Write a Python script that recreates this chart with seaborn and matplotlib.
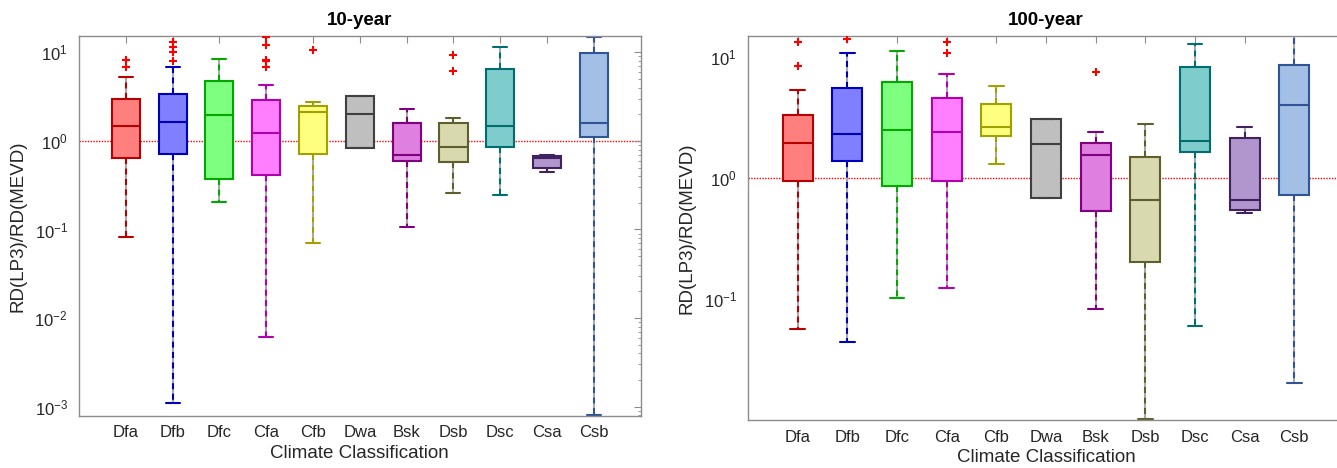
import numpy as np
import matplotlib
matplotlib.use("Agg")
import matplotlib.pyplot as plt
import matplotlib.ticker as mticker
import seaborn as sns

# ---------------- data ----------------
categories = ["Dfa", "Dfb", "Dfc", "Cfa", "Cfb", "Dwa", "Bsk", "Dsb", "Dsc", "Csa", "Csb"]

# 10-year: lower whisker, Q1, median, Q3, upper whisker
y10_low = [0.083, 0.0011, 0.205, 0.0061, 0.0695, 0.834, 0.106, 0.261, 0.244, 0.447, 0.0008]
y10_q1 = [0.64, 0.71, 0.376, 0.41, 0.708, 0.834, 0.59, 0.585, 0.85, 0.496, 1.10]
y10_med = [1.47, 1.64, 1.96, 1.22, 2.12, 2.03, 0.695, 0.86, 1.49, 0.64, 1.58]
y10_q3 = [2.95, 3.36, 4.70, 2.90, 2.46, 3.19, 1.60, 1.61, 6.50, 0.677, 9.80]
y10_high = [5.3, 6.9, 8.5, 4.25, 2.77, 3.19, 2.30, 1.80, 11.4, 0.70, 14.8]
y10_out = {"Dfa": [8.1, 6.9], "Dfb": [13.2, 11.4, 10.2, 8.0],
           "Cfa": [15.0, 12.2, 8.3, 8.0, 6.8], "Cfb": [10.7], "Dsb": [9.4, 6.2]}

# 100-year
y100_low = [0.0565, 0.0441, 0.101, 0.123, 1.31, 0.689, 0.0826, 0.0100, 0.0591, 0.514, 0.0199]
y100_q1 = [0.945, 1.37, 0.854, 0.945, 2.24, 0.689, 0.537, 0.200, 1.64, 0.548, 0.719]
y100_med = [1.95, 2.33, 2.51, 2.40, 2.62, 1.90, 1.56, 0.654, 2.02, 0.662, 4.04]
y100_q3 = [3.30, 5.60, 6.18, 4.56, 4.09, 3.10, 1.94, 1.49, 8.27, 2.14, 8.70]
y100_high = [5.38, 10.9, 11.3, 7.30, 5.73, 3.10, 2.40, 2.82, 13.0, 2.64, 20.0]
y100_out = {"Dfa": [13.5, 8.5], "Dfb": [14.3], "Cfa": [13.5, 10.8], "Bsk": [7.6]}

fill_colors = ["#FF7F7F", "#7F7FFF", "#7FFF7F", "#FF7FFF", "#FFFF7F", "#BFBFBF",
               "#DF7FDF", "#D9D9B0", "#7FCCCC", "#B096CC", "#A3BFE6"]
edge_colors = ["#B80000", "#0000B8", "#00A800", "#B000B0", "#A0A000", "#404040",
               "#800080", "#5E5E2E", "#006E6E", "#3F225F", "#2F5597"]

# ---------------- style ----------------
sns.set_style("white")
plt.rcParams["font.family"] = ["Liberation Sans", "DejaVu Sans"]
plt.rcParams["mathtext.fontset"] = "custom"
plt.rcParams["mathtext.rm"] = "Liberation Sans"
plt.rcParams["mathtext.it"] = "Liberation Sans"
plt.rcParams["mathtext.bf"] = "Liberation Sans:bold"

SPINE = "#8C8C8C"
TXT = "#262626"

fig = plt.figure(figsize=(13.37, 4.68), dpi=100)
ax1 = fig.add_axes([79 / 1337, 1 - 415.7 / 468, 561.7 / 1337, 379.7 / 468])
# right panel is cut off by the figure edge, as in the reference
ax2 = fig.add_axes([748 / 1337, 1 - 420 / 468, 640 / 1337, 384 / 468])
full_frac = (596 / 2) / 640   # centre of the uncropped right panel


def draw_panel(ax, low, q1, med, q3, high, outliers):
    for i, cat in enumerate(categories):
        vals = [low[i], q1[i], med[i], q3[i], high[i]]
        sns.boxplot(x=[cat] * 5, y=vals, order=categories, ax=ax,
                    color=fill_colors[i], linecolor=edge_colors[i], saturation=1,
                    width=0.6, linewidth=1.5, whis=np.inf, showfliers=False,
                    log_scale=True,
                    whiskerprops=dict(linestyle=(0, (3, 2)), gapcolor="#A8A8A8"))
    for cat, vals in outliers.items():
        sns.stripplot(x=[cat] * len(vals), y=vals, order=categories, ax=ax,
                      jitter=False, marker="+", color="red", size=6, linewidth=1.5)
    ax.axhline(1.0, color="red", linestyle=(0, (1, 1)), linewidth=1.0, zorder=0.5)


draw_panel(ax1, y10_low, y10_q1, y10_med, y10_q3, y10_high, y10_out)
draw_panel(ax2, y100_low, y100_q1, y100_med, y100_q3, y100_high, y100_out)

for ax, title in [(ax1, "10-year"), (ax2, "100-year")]:
    ax.set_xticks(range(len(categories)))
    ax.set_xticklabels(categories)
    ax.set_xlabel("Climate Classification", fontsize=13.5, color=TXT, labelpad=3)
    ax.set_ylabel("RD(LP3)/RD(MEVD)", fontsize=13.5, color=TXT, labelpad=6)
    ax.tick_params(axis="both", which="both", direction="in", top=True, right=True,
                   colors=SPINE, labelcolor=TXT, labelsize=12)
    ax.tick_params(axis="y", which="major", length=5, width=0.8, pad=8)
    ax.tick_params(axis="y", which="minor", length=2.5, width=0.6)
    ax.tick_params(axis="x", which="major", length=5, width=0.8, pad=7)
    ax.tick_params(axis="x", which="minor", length=0)
    for sp in ax.spines.values():
        sp.set_visible(True)
        sp.set_color(SPINE)
        sp.set_linewidth(1.0)

ax1.set_xlim(-1, 11)
ax1.set_ylim(0.00079, 15.3)
ax1.set_title("10-year", fontsize=13.5, fontweight="bold", color="black", pad=8)

ax2.set_xlim(-1, -1 + 640 / (596 / 12))
ax2.set_ylim(0.0099, 15.0)
ax2.yaxis.set_major_locator(mticker.FixedLocator([0.1, 1, 10]))
ax2.yaxis.set_minor_locator(mticker.LogLocator(base=10, subs=np.arange(2, 10)))
ax2.yaxis.set_minor_formatter(mticker.NullFormatter())
ax2.spines["right"].set_visible(False)
ax2.tick_params(axis="y", which="both", right=False)
ax2.set_title("100-year", fontsize=13.5, fontweight="bold", color="black", pad=8,
              x=full_frac)
ax2.xaxis.label.set_x(full_frac)

fig.savefig("out.png", dpi=100)
